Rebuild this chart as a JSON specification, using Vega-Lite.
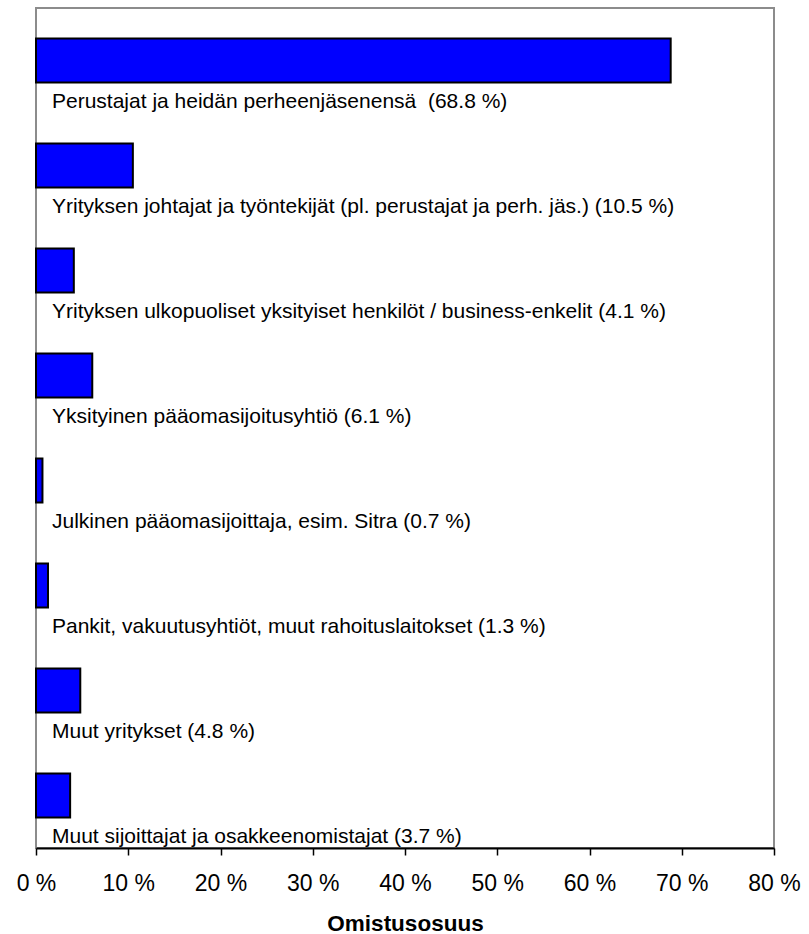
{
  "$schema": "https://vega.github.io/schema/vega-lite/v6.json",
  "width": 738,
  "height": 840,
  "autosize": "none",
  "padding": {"left": 36, "top": 8, "right": 35, "bottom": 86},
  "background": "white",
  "config": {
    "view": {"stroke": "#8c8c8c", "strokeWidth": 2},
    "font": "Liberation Sans"
  },
  "data": {
    "values": [
      {"label": "Perustajat ja heidän perheenjäsenensä\u00a0 (68.8 %)", "value": 68.8},
      {"label": "Yrityksen johtajat ja työntekijät (pl. perustajat ja perh. jäs.) (10.5 %)", "value": 10.5},
      {"label": "Yrityksen ulkopuoliset yksityiset henkilöt / business-enkelit (4.1 %)", "value": 4.1},
      {"label": "Yksityinen pääomasijoitusyhtiö (6.1 %)", "value": 6.1},
      {"label": "Julkinen pääomasijoittaja, esim. Sitra (0.7 %)", "value": 0.7},
      {"label": "Pankit, vakuutusyhtiöt, muut rahoituslaitokset (1.3 %)", "value": 1.3},
      {"label": "Muut yritykset (4.8 %)", "value": 4.8},
      {"label": "Muut sijoittajat ja osakkeenomistajat (3.7 %)", "value": 3.7}
    ]
  },
  "encoding": {
    "y": {
      "field": "label",
      "type": "nominal",
      "sort": null,
      "axis": null,
      "scale": {"paddingInner": 0.58, "paddingOuter": 0.29}
    }
  },
  "layer": [
    {
      "mark": {"type": "bar", "color": "#0000ff", "stroke": "#000000", "strokeWidth": 2},
      "encoding": {
        "x": {
          "field": "value",
          "type": "quantitative",
          "scale": {"domain": [0, 80], "nice": false},
          "axis": {
            "title": "Omistusosuus",
            "values": [0, 10, 20, 30, 40, 50, 60, 70, 80],
            "labelExpr": "datum.value + ' %'",
            "grid": false,
            "domainColor": "#000000",
            "domainWidth": 2,
            "tickColor": "#000000",
            "tickWidth": 1.5,
            "tickSize": 7,
            "labelFont": "Liberation Sans",
            "labelFontSize": 23,
            "labelColor": "#000000",
            "labelBaseline": "alphabetic",
            "labelPadding": 35,
            "labelFlush": false,
            "labelOverlap": false,
            "titleFont": "Liberation Sans",
            "titleFontSize": 22.5,
            "titleFontWeight": "bold",
            "titleColor": "#000000",
            "titleBaseline": "alphabetic",
            "titleY": 82
          }
        }
      }
    },
    {
      "mark": {
        "type": "text",
        "align": "left",
        "baseline": "alphabetic",
        "dx": 16,
        "dy": 47.5,
        "fontSize": 21,
        "font": "Liberation Sans",
        "color": "#000000"
      },
      "encoding": {
        "x": {"datum": 0, "type": "quantitative"},
        "text": {"field": "label"}
      }
    }
  ]
}
